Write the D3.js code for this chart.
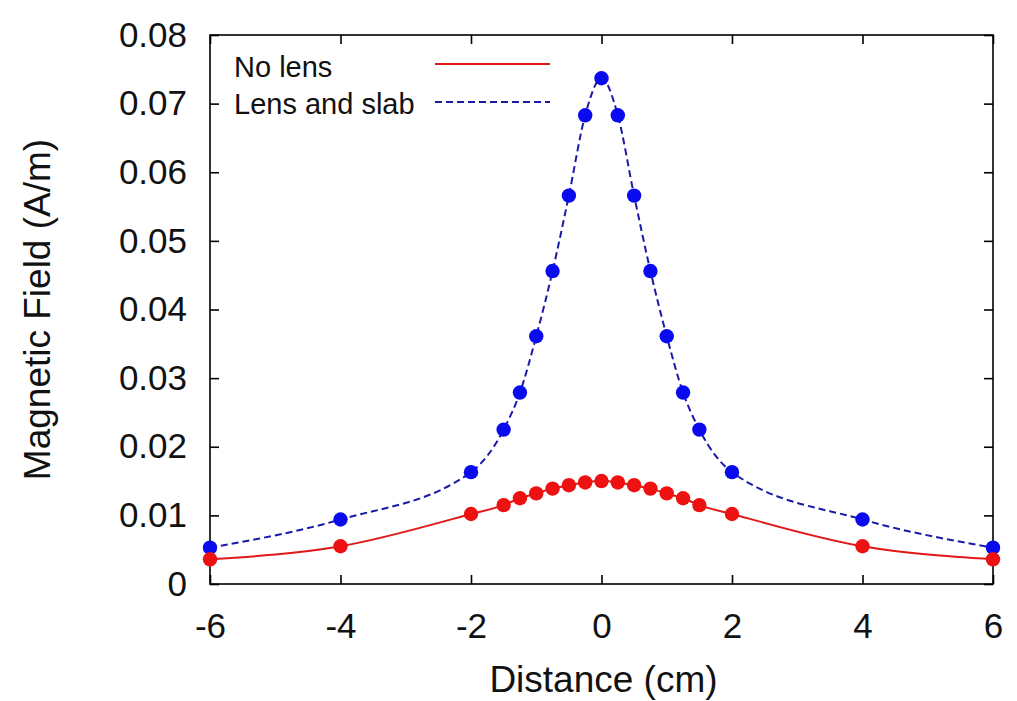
<!DOCTYPE html>
<html><head><meta charset="utf-8">
<script src="https://cdn.jsdelivr.net/npm/d3@7"></script>
<style>body{margin:0;background:#fff}svg{display:block}</style>
</head><body>
<svg id="c" width="1017" height="701"></svg>
<script>
const distance = [-6,-4,-2,-1.5,-1.25,-1,-0.75,-0.5,-0.25,0,0.25,0.5,0.75,1,1.25,1.5,2,4,6];
const noLens = [0.0036,0.0055,0.0102,0.0115,0.0125,0.0132,0.0139,0.0144,0.0148,0.0150,0.0148,0.0144,0.0139,0.0132,0.0125,0.0115,0.0102,0.0055,0.0036];
const lensSlab = [0.0053,0.0094,0.0163,0.0225,0.0279,0.0361,0.0456,0.0566,0.0683,0.0737,0.0683,0.0566,0.0456,0.0361,0.0279,0.0225,0.0163,0.0094,0.0053];
const xTicks = [-6,-4,-2,0,2,4,6];
const yTicks = [0,0.01,0.02,0.03,0.04,0.05,0.06,0.07,0.08];
const seriesNames = ["No lens","Lens and slab"];

const svg = d3.select("#c");
const L=210, R=993, T=35, B=584;
const x = d3.scaleLinear().domain([-6,6]).range([L,R]);
const y = d3.scaleLinear().domain([0,0.08]).range([B,T]);
const font = "'Liberation Sans', Arial, Helvetica, sans-serif";

// frame
svg.append("rect").attr("x",L).attr("y",T).attr("width",R-L).attr("height",B-T)
  .attr("fill","none").attr("stroke","#000").attr("stroke-width",1.6);

const tl = 9;
const gx = svg.append("g").attr("transform",`translate(0,${B})`)
  .call(d3.axisBottom(x).tickValues(xTicks).tickFormat(d=>String(d)).tickSize(-tl).tickPadding(29));
const gxt = svg.append("g").attr("transform",`translate(0,${T})`)
  .call(d3.axisTop(x).tickValues(xTicks).tickFormat("").tickSize(-tl));
const gy = svg.append("g").attr("transform",`translate(${L},0)`)
  .call(d3.axisLeft(y).tickValues(yTicks).tickFormat(d=>d===0?"0":d3.format(".2f")(d)).tickSize(-tl).tickPadding(23));
const gyr = svg.append("g").attr("transform",`translate(${R},0)`)
  .call(d3.axisRight(y).tickValues(yTicks).tickFormat("").tickSize(-tl));
[gx,gxt,gy,gyr].forEach(g=>{
  g.select(".domain").remove();
  g.selectAll("line").attr("stroke","#000").attr("stroke-width",1.6);
  g.selectAll("text").attr("font-family",font).attr("font-size",35).attr("fill","#111");
});
gx.selectAll("text").attr("dy","0.71em");

// titles
svg.append("text").attr("x",(L+R)/2+2).attr("y",692).attr("text-anchor","middle")
  .attr("font-family",font).attr("font-size",37).attr("fill","#111").text("Distance (cm)");
svg.append("text").attr("transform",`translate(50,${(T+B)/2}) rotate(-90)`).attr("text-anchor","middle")
  .attr("font-family",font).attr("font-size",37).attr("fill","#111").text("Magnetic Field (A/m)");

const curve = d3.curveMonotoneX;
const lineGen = vals => d3.line().x((d,i)=>x(distance[i])).y(d=>y(d)).curve(curve)(vals);

// series
svg.append("path").attr("d",lineGen(lensSlab)).attr("fill","none")
  .attr("stroke","#1a1aa8").attr("stroke-width",2).attr("stroke-dasharray","7,4");
svg.append("path").attr("d",lineGen(noLens)).attr("fill","none")
  .attr("stroke","#e01818").attr("stroke-width",2);
svg.append("g").selectAll("circle").data(lensSlab).join("circle")
  .attr("cx",(d,i)=>x(distance[i])).attr("cy",d=>y(d)).attr("r",7.2).attr("fill","#0a0aee");
svg.append("g").selectAll("circle").data(noLens).join("circle")
  .attr("cx",(d,i)=>x(distance[i])).attr("cy",d=>y(d)).attr("r",7.2).attr("fill","#ee1111");

// legend
const leg = svg.append("g");
seriesNames.forEach((n,i)=>{
  const base = 77 + i*37;
  leg.append("text").attr("x",234).attr("y",base).attr("font-family",font).attr("font-size",29)
    .attr("fill","#111").text(n);
  leg.append("line").attr("x1",435).attr("x2",550).attr("y1",64+i*38).attr("y2",64+i*38)
    .attr("stroke",i===0?"#e01818":"#1a1aa8").attr("stroke-width",2)
    .attr("stroke-dasharray",i===0?null:"7,4");
});
</script>
</body></html>
